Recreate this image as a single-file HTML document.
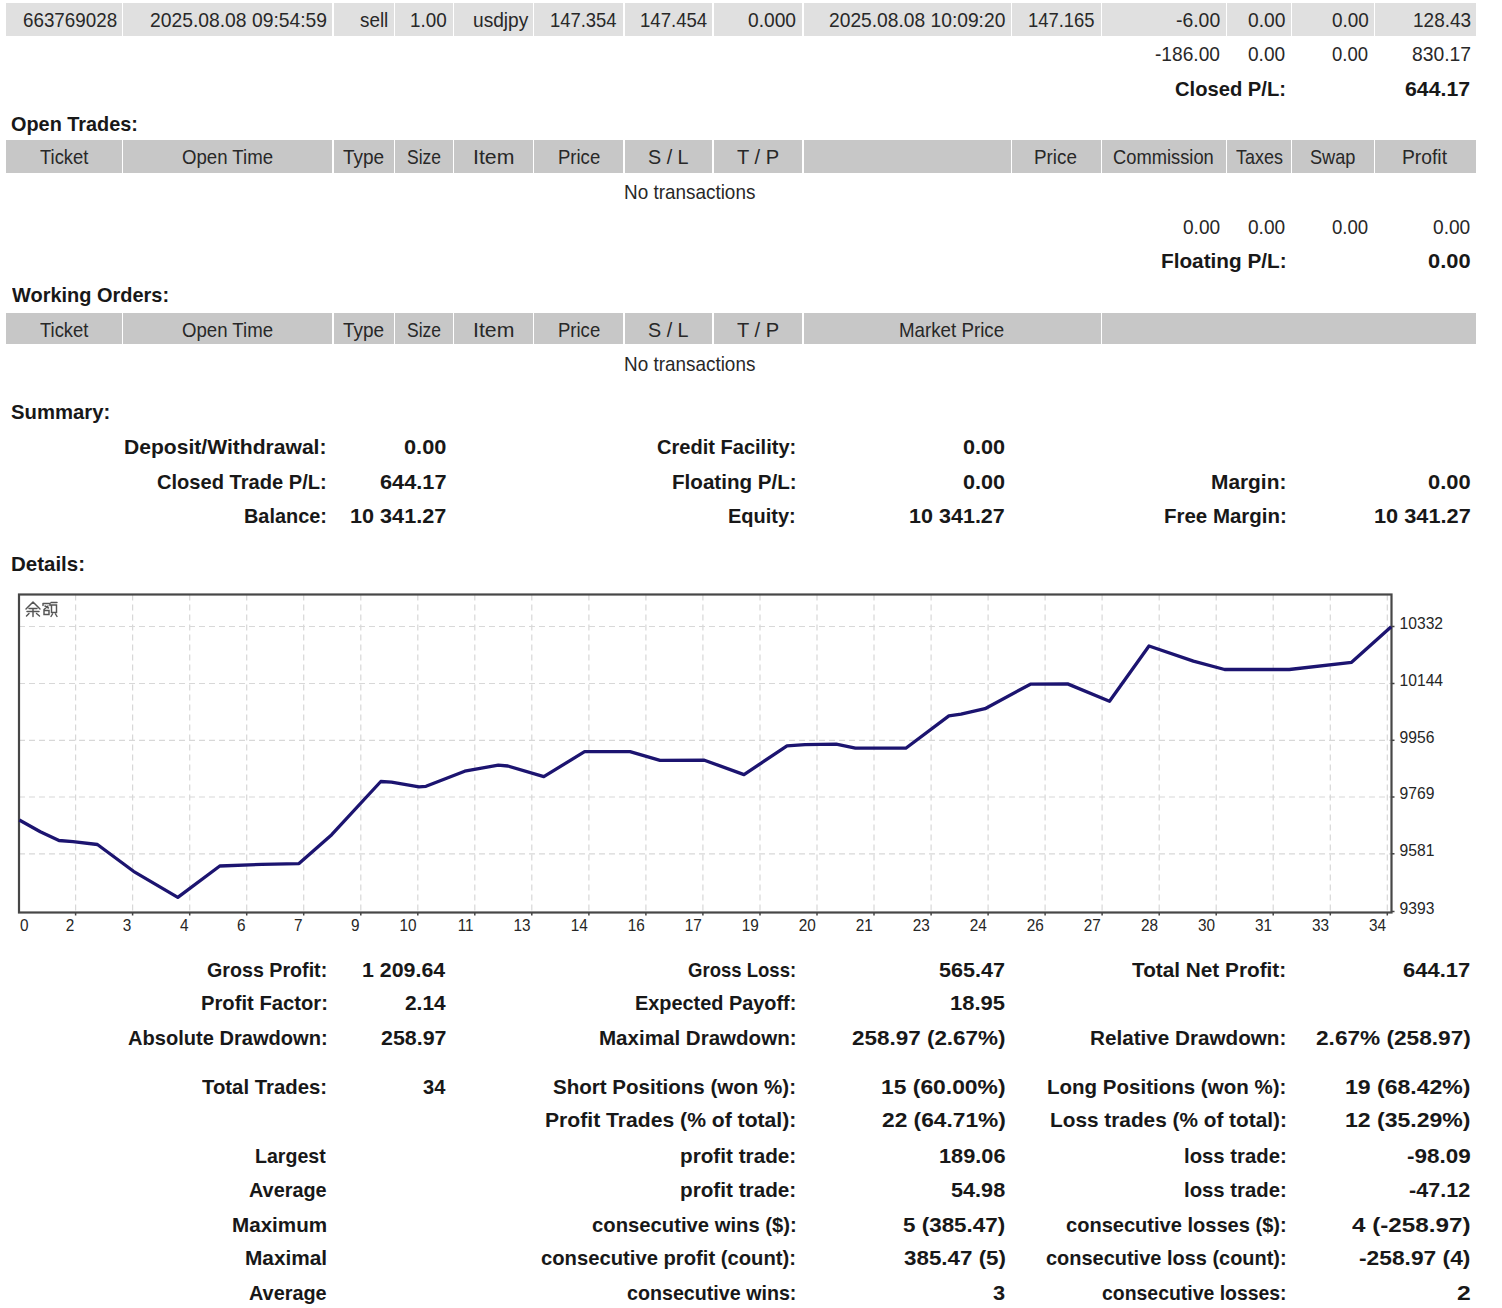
<!DOCTYPE html>
<html><head><meta charset="utf-8"><title>Report</title>
<style>html,body{margin:0;padding:0;background:#fff;width:1502px;height:1308px;overflow:hidden}
body{position:relative;font-family:"Liberation Sans",sans-serif}
svg{display:block;font-family:"Liberation Sans",sans-serif}
.c{position:absolute}
.t{position:absolute;font-size:21px;line-height:21px;white-space:pre;transform-origin:0 0}
.r{color:#282828}
.b{color:#181818;font-weight:bold}</style></head>
<body>
<div class="c" style="left:6px;top:3px;width:115.6px;height:33.0px;background:#e0e0e0"></div>
<div class="c" style="left:123.2px;top:3px;width:208.8px;height:33.0px;background:#e0e0e0"></div>
<div class="c" style="left:334px;top:3px;width:59.5px;height:33.0px;background:#e0e0e0"></div>
<div class="c" style="left:395px;top:3px;width:57.5px;height:33.0px;background:#e0e0e0"></div>
<div class="c" style="left:454px;top:3px;width:78.5px;height:33.0px;background:#e0e0e0"></div>
<div class="c" style="left:534px;top:3px;width:89.0px;height:33.0px;background:#e0e0e0"></div>
<div class="c" style="left:624.5px;top:3px;width:87.5px;height:33.0px;background:#e0e0e0"></div>
<div class="c" style="left:713.5px;top:3px;width:88.5px;height:33.0px;background:#e0e0e0"></div>
<div class="c" style="left:803.5px;top:3px;width:207.0px;height:33.0px;background:#e0e0e0"></div>
<div class="c" style="left:1012px;top:3px;width:88.5px;height:33.0px;background:#e0e0e0"></div>
<div class="c" style="left:1102px;top:3px;width:123.5px;height:33.0px;background:#e0e0e0"></div>
<div class="c" style="left:1227px;top:3px;width:63.5px;height:33.0px;background:#e0e0e0"></div>
<div class="c" style="left:1292px;top:3px;width:81.5px;height:33.0px;background:#e0e0e0"></div>
<div class="c" style="left:1375px;top:3px;width:101.0px;height:33.0px;background:#e0e0e0"></div>
<div class="c" style="left:6px;top:140px;width:115.6px;height:33.2px;background:#c7c7c7"></div>
<div class="c" style="left:123.2px;top:140px;width:208.8px;height:33.2px;background:#c7c7c7"></div>
<div class="c" style="left:334px;top:140px;width:59.5px;height:33.2px;background:#c7c7c7"></div>
<div class="c" style="left:395px;top:140px;width:57.5px;height:33.2px;background:#c7c7c7"></div>
<div class="c" style="left:454px;top:140px;width:78.5px;height:33.2px;background:#c7c7c7"></div>
<div class="c" style="left:534px;top:140px;width:89.0px;height:33.2px;background:#c7c7c7"></div>
<div class="c" style="left:624.5px;top:140px;width:87.5px;height:33.2px;background:#c7c7c7"></div>
<div class="c" style="left:713.5px;top:140px;width:88.5px;height:33.2px;background:#c7c7c7"></div>
<div class="c" style="left:803.5px;top:140px;width:207.0px;height:33.2px;background:#c7c7c7"></div>
<div class="c" style="left:1012px;top:140px;width:88.5px;height:33.2px;background:#c7c7c7"></div>
<div class="c" style="left:1102px;top:140px;width:123.5px;height:33.2px;background:#c7c7c7"></div>
<div class="c" style="left:1227px;top:140px;width:63.5px;height:33.2px;background:#c7c7c7"></div>
<div class="c" style="left:1292px;top:140px;width:81.5px;height:33.2px;background:#c7c7c7"></div>
<div class="c" style="left:1375px;top:140px;width:101.0px;height:33.2px;background:#c7c7c7"></div>
<div class="c" style="left:6px;top:313px;width:115.6px;height:31.2px;background:#c7c7c7"></div>
<div class="c" style="left:123.2px;top:313px;width:208.8px;height:31.2px;background:#c7c7c7"></div>
<div class="c" style="left:334px;top:313px;width:59.5px;height:31.2px;background:#c7c7c7"></div>
<div class="c" style="left:395px;top:313px;width:57.5px;height:31.2px;background:#c7c7c7"></div>
<div class="c" style="left:454px;top:313px;width:78.5px;height:31.2px;background:#c7c7c7"></div>
<div class="c" style="left:534px;top:313px;width:89.0px;height:31.2px;background:#c7c7c7"></div>
<div class="c" style="left:624.5px;top:313px;width:87.5px;height:31.2px;background:#c7c7c7"></div>
<div class="c" style="left:713.5px;top:313px;width:88.5px;height:31.2px;background:#c7c7c7"></div>
<div class="c" style="left:803.5px;top:313px;width:297.0px;height:31.2px;background:#c7c7c7"></div>
<div class="c" style="left:1102px;top:313px;width:374.0px;height:31.2px;background:#c7c7c7"></div>
<svg width="1502" height="1308" viewBox="0 0 1502 1308" style="position:absolute;left:0;top:0">
<g stroke="#d8d8d8" stroke-width="1.2" stroke-dasharray="6 4" fill="none"><line x1="75.6" y1="594.5" x2="75.6" y2="912.5"/><line x1="132.6" y1="594.5" x2="132.6" y2="912.5"/><line x1="189.7" y1="594.5" x2="189.7" y2="912.5"/><line x1="246.7" y1="594.5" x2="246.7" y2="912.5"/><line x1="303.7" y1="594.5" x2="303.7" y2="912.5"/><line x1="360.8" y1="594.5" x2="360.8" y2="912.5"/><line x1="417.8" y1="594.5" x2="417.8" y2="912.5"/><line x1="474.8" y1="594.5" x2="474.8" y2="912.5"/><line x1="531.8" y1="594.5" x2="531.8" y2="912.5"/><line x1="588.9" y1="594.5" x2="588.9" y2="912.5"/><line x1="645.9" y1="594.5" x2="645.9" y2="912.5"/><line x1="702.9" y1="594.5" x2="702.9" y2="912.5"/><line x1="760.0" y1="594.5" x2="760.0" y2="912.5"/><line x1="817.0" y1="594.5" x2="817.0" y2="912.5"/><line x1="874.0" y1="594.5" x2="874.0" y2="912.5"/><line x1="931.1" y1="594.5" x2="931.1" y2="912.5"/><line x1="988.1" y1="594.5" x2="988.1" y2="912.5"/><line x1="1045.1" y1="594.5" x2="1045.1" y2="912.5"/><line x1="1102.1" y1="594.5" x2="1102.1" y2="912.5"/><line x1="1159.2" y1="594.5" x2="1159.2" y2="912.5"/><line x1="1216.2" y1="594.5" x2="1216.2" y2="912.5"/><line x1="1273.2" y1="594.5" x2="1273.2" y2="912.5"/><line x1="1330.3" y1="594.5" x2="1330.3" y2="912.5"/><line x1="1387.3" y1="594.5" x2="1387.3" y2="912.5"/><line x1="19.0" y1="626.5" x2="1391.5" y2="626.5"/><line x1="19.0" y1="683.5" x2="1391.5" y2="683.5"/><line x1="19.0" y1="740.3" x2="1391.5" y2="740.3"/><line x1="19.0" y1="797.0" x2="1391.5" y2="797.0"/><line x1="19.0" y1="853.8" x2="1391.5" y2="853.8"/></g>
<rect x="19.0" y="594.5" width="1372.5" height="318.0" fill="none" stroke="#474747" stroke-width="2.2"/>
<g stroke="#444" stroke-width="1.5"><line x1="75.6" y1="912.5" x2="75.6" y2="915.5"/><line x1="132.6" y1="912.5" x2="132.6" y2="915.5"/><line x1="189.7" y1="912.5" x2="189.7" y2="915.5"/><line x1="246.7" y1="912.5" x2="246.7" y2="915.5"/><line x1="303.7" y1="912.5" x2="303.7" y2="915.5"/><line x1="360.8" y1="912.5" x2="360.8" y2="915.5"/><line x1="417.8" y1="912.5" x2="417.8" y2="915.5"/><line x1="474.8" y1="912.5" x2="474.8" y2="915.5"/><line x1="531.8" y1="912.5" x2="531.8" y2="915.5"/><line x1="588.9" y1="912.5" x2="588.9" y2="915.5"/><line x1="645.9" y1="912.5" x2="645.9" y2="915.5"/><line x1="702.9" y1="912.5" x2="702.9" y2="915.5"/><line x1="760.0" y1="912.5" x2="760.0" y2="915.5"/><line x1="817.0" y1="912.5" x2="817.0" y2="915.5"/><line x1="874.0" y1="912.5" x2="874.0" y2="915.5"/><line x1="931.1" y1="912.5" x2="931.1" y2="915.5"/><line x1="988.1" y1="912.5" x2="988.1" y2="915.5"/><line x1="1045.1" y1="912.5" x2="1045.1" y2="915.5"/><line x1="1102.1" y1="912.5" x2="1102.1" y2="915.5"/><line x1="1159.2" y1="912.5" x2="1159.2" y2="915.5"/><line x1="1216.2" y1="912.5" x2="1216.2" y2="915.5"/><line x1="1273.2" y1="912.5" x2="1273.2" y2="915.5"/><line x1="1330.3" y1="912.5" x2="1330.3" y2="915.5"/><line x1="1387.3" y1="912.5" x2="1387.3" y2="915.5"/><line x1="1391.5" y1="626.5" x2="1394.5" y2="626.5"/><line x1="1391.5" y1="683.5" x2="1394.5" y2="683.5"/><line x1="1391.5" y1="740.3" x2="1394.5" y2="740.3"/><line x1="1391.5" y1="797.0" x2="1394.5" y2="797.0"/><line x1="1391.5" y1="853.8" x2="1394.5" y2="853.8"/><line x1="1391.5" y1="911.5" x2="1394.5" y2="911.5"/></g>
<path d="M19.3 820.0 L40.3 831.7 L59.0 840.5 L73.0 841.7 L97.4 844.5 L133.5 871.3 L177.8 897.4 L219.8 866.0 L261.7 864.3 L299.0 863.6 L331.7 834.7 L380.8 781.5 L391.5 782.2 L419.0 786.8 L426.0 786.3 L464.7 771.2 L498.3 765.2 L507.9 766.0 L543.8 776.7 L584.6 751.6 L630.0 751.6 L660.0 760.4 L704.4 760.2 L744.0 774.6 L787.0 745.8 L805.0 744.6 L836.2 744.2 L855.4 748.2 L905.8 748.2 L948.9 715.9 L961.0 714.2 L985.0 708.7 L1030.4 684.2 L1067.6 683.9 L1109.5 701.2 L1149.0 646.0 L1193.4 661.1 L1224.6 669.5 L1289.3 669.5 L1351.6 662.3 L1391.2 626.8" fill="none" stroke="#1c1470" stroke-width="3.3" stroke-linejoin="round"/>
<g stroke="#555" stroke-width="1.45" fill="none" stroke-linecap="round">
<path d="M33 602 L26 609 M33 602 L40 609 M29 608.5 L37 608.5 M27 611.5 L39 611.5 M33 609 L33 616.5 M29 613.5 L26.5 616 M36.5 613.5 L39.5 616"/>
<path d="M43 603.5 L50 603.5 M43 603.5 L43 605.5 M50 603.5 L50 605.5 M45 606 L48.5 608 M48 606 L44 609.5 M44 610.5 L49 610.5 L49 614.5 L44 614.5 Z M51 602.5 L57 602.5 M51.5 605 L56.5 605 L56.5 612.5 L51.5 612.5 Z M52.5 614 L51 616.5 M55.5 614 L57 616.5"/>
</g>
<g fill="#262626"><text transform="translate(20 931.3) scale(0.93 1)" font-size="16.5">0</text><text transform="translate(74.4 931.3) scale(0.93 1)" font-size="16.5" text-anchor="end">2</text><text transform="translate(131.4 931.3) scale(0.93 1)" font-size="16.5" text-anchor="end">3</text><text transform="translate(188.5 931.3) scale(0.93 1)" font-size="16.5" text-anchor="end">4</text><text transform="translate(245.5 931.3) scale(0.93 1)" font-size="16.5" text-anchor="end">6</text><text transform="translate(302.5 931.3) scale(0.93 1)" font-size="16.5" text-anchor="end">7</text><text transform="translate(359.6 931.3) scale(0.93 1)" font-size="16.5" text-anchor="end">9</text><text transform="translate(416.6 931.3) scale(0.93 1)" font-size="16.5" text-anchor="end">10</text><text transform="translate(473.6 931.3) scale(0.93 1)" font-size="16.5" text-anchor="end">11</text><text transform="translate(530.6 931.3) scale(0.93 1)" font-size="16.5" text-anchor="end">13</text><text transform="translate(587.7 931.3) scale(0.93 1)" font-size="16.5" text-anchor="end">14</text><text transform="translate(644.7 931.3) scale(0.93 1)" font-size="16.5" text-anchor="end">16</text><text transform="translate(701.7 931.3) scale(0.93 1)" font-size="16.5" text-anchor="end">17</text><text transform="translate(758.8 931.3) scale(0.93 1)" font-size="16.5" text-anchor="end">19</text><text transform="translate(815.8 931.3) scale(0.93 1)" font-size="16.5" text-anchor="end">20</text><text transform="translate(872.8 931.3) scale(0.93 1)" font-size="16.5" text-anchor="end">21</text><text transform="translate(929.9 931.3) scale(0.93 1)" font-size="16.5" text-anchor="end">23</text><text transform="translate(986.9 931.3) scale(0.93 1)" font-size="16.5" text-anchor="end">24</text><text transform="translate(1043.9 931.3) scale(0.93 1)" font-size="16.5" text-anchor="end">26</text><text transform="translate(1100.9 931.3) scale(0.93 1)" font-size="16.5" text-anchor="end">27</text><text transform="translate(1158.0 931.3) scale(0.93 1)" font-size="16.5" text-anchor="end">28</text><text transform="translate(1215.0 931.3) scale(0.93 1)" font-size="16.5" text-anchor="end">30</text><text transform="translate(1272.0 931.3) scale(0.93 1)" font-size="16.5" text-anchor="end">31</text><text transform="translate(1329.1 931.3) scale(0.93 1)" font-size="16.5" text-anchor="end">33</text><text transform="translate(1386.1 931.3) scale(0.93 1)" font-size="16.5" text-anchor="end">34</text><text transform="translate(1399.5 628.8) scale(0.95 1)" font-size="16.5">10332</text><text transform="translate(1399.5 685.8) scale(0.95 1)" font-size="16.5">10144</text><text transform="translate(1399.5 742.6) scale(0.95 1)" font-size="16.5">9956</text><text transform="translate(1399.5 799.3) scale(0.95 1)" font-size="16.5">9769</text><text transform="translate(1399.5 856.1) scale(0.95 1)" font-size="16.5">9581</text><text transform="translate(1399.5 913.8) scale(0.95 1)" font-size="16.5">9393</text></g>
</svg>
<div class="t r" style="left:23.10px;top:8.60px;transform:scaleX(0.8951)">663769028</div>
<div class="t r" style="left:150.08px;top:8.60px;transform:scaleX(0.9187)">2025.08.08 09:54:59</div>
<div class="t r" style="left:360.45px;top:8.60px;transform:scaleX(0.8973)">sell</div>
<div class="t r" style="left:409.96px;top:8.60px;transform:scaleX(0.8989)">1.00</div>
<div class="t r" style="left:472.52px;top:8.60px;transform:scaleX(0.9107)">usdjpy</div>
<div class="t r" style="left:550.40px;top:8.60px;transform:scaleX(0.8775)">147.354</div>
<div class="t r" style="left:639.59px;top:8.60px;transform:scaleX(0.8843)">147.454</div>
<div class="t r" style="left:748.07px;top:8.60px;transform:scaleX(0.9142)">0.000</div>
<div class="t r" style="left:828.88px;top:8.60px;transform:scaleX(0.9151)">2025.08.08 10:09:20</div>
<div class="t r" style="left:1027.60px;top:8.60px;transform:scaleX(0.8770)">147.165</div>
<div class="t r" style="left:1175.77px;top:8.60px;transform:scaleX(0.9224)">-6.00</div>
<div class="t r" style="left:1248.27px;top:8.60px;transform:scaleX(0.9162)">0.00</div>
<div class="t r" style="left:1331.68px;top:8.60px;transform:scaleX(0.9009)">0.00</div>
<div class="t r" style="left:1412.65px;top:8.60px;transform:scaleX(0.9052)">128.43</div>
<div class="t r" style="left:1155.08px;top:43.40px;transform:scaleX(0.9116)">-186.00</div>
<div class="t r" style="left:1247.87px;top:43.40px;transform:scaleX(0.9086)">0.00</div>
<div class="t r" style="left:1331.80px;top:43.40px;transform:scaleX(0.8806)">0.00</div>
<div class="t r" style="left:1412.07px;top:43.40px;transform:scaleX(0.9190)">830.17</div>
<div class="t b" style="left:1175.23px;top:78.00px;transform:scaleX(0.9608)">Closed P/L:</div>
<div class="t b" style="left:1404.79px;top:78.00px;transform:scaleX(1.0135)">644.17</div>
<div class="t b" style="left:11.24px;top:113.00px;transform:scaleX(0.9459)">Open Trades:</div>
<div class="t b" style="left:12.00px;top:283.80px;transform:scaleX(0.9503)">Working Orders:</div>
<div class="t b" style="left:11.42px;top:401.00px;transform:scaleX(0.9659)">Summary:</div>
<div class="t b" style="left:10.63px;top:552.70px;transform:scaleX(0.9756)">Details:</div>
<div class="t r" style="left:39.65px;top:146.20px;transform:scaleX(0.8758)">Ticket</div>
<div class="t r" style="left:182.40px;top:146.20px;transform:scaleX(0.8864)">Open Time</div>
<div class="t r" style="left:343.14px;top:146.20px;transform:scaleX(0.9040)">Type</div>
<div class="t r" style="left:406.65px;top:146.20px;transform:scaleX(0.8318)">Size</div>
<div class="t r" style="left:472.58px;top:146.20px;transform:scaleX(1.0120)">Item</div>
<div class="t r" style="left:557.50px;top:146.20px;transform:scaleX(0.8815)">Price</div>
<div class="t r" style="left:648.15px;top:146.20px;transform:scaleX(0.9397)">S / L</div>
<div class="t r" style="left:737.12px;top:146.20px;transform:scaleX(0.9572)">T / P</div>
<div class="t r" style="left:1034.48px;top:146.20px;transform:scaleX(0.8969)">Price</div>
<div class="t r" style="left:1113.33px;top:146.20px;transform:scaleX(0.8725)">Commission</div>
<div class="t r" style="left:1235.96px;top:146.20px;transform:scaleX(0.8557)">Taxes</div>
<div class="t r" style="left:1309.82px;top:146.20px;transform:scaleX(0.8650)">Swap</div>
<div class="t r" style="left:1402.24px;top:146.20px;transform:scaleX(0.9178)">Profit</div>
<div class="t r" style="left:623.67px;top:180.90px;transform:scaleX(0.9003)">No transactions</div>
<div class="t r" style="left:1183.27px;top:215.50px;transform:scaleX(0.9086)">0.00</div>
<div class="t r" style="left:1248.27px;top:215.50px;transform:scaleX(0.9086)">0.00</div>
<div class="t r" style="left:1332.19px;top:215.50px;transform:scaleX(0.8857)">0.00</div>
<div class="t r" style="left:1433.27px;top:215.50px;transform:scaleX(0.9111)">0.00</div>
<div class="t b" style="left:1161.02px;top:250.40px;transform:scaleX(0.9882)">Floating P/L:</div>
<div class="t b" style="left:1428.07px;top:250.40px;transform:scaleX(1.0409)">0.00</div>
<div class="t r" style="left:39.65px;top:318.50px;transform:scaleX(0.8758)">Ticket</div>
<div class="t r" style="left:182.40px;top:318.50px;transform:scaleX(0.8864)">Open Time</div>
<div class="t r" style="left:343.14px;top:318.50px;transform:scaleX(0.9040)">Type</div>
<div class="t r" style="left:406.65px;top:318.50px;transform:scaleX(0.8318)">Size</div>
<div class="t r" style="left:472.58px;top:318.50px;transform:scaleX(1.0120)">Item</div>
<div class="t r" style="left:557.50px;top:318.50px;transform:scaleX(0.8815)">Price</div>
<div class="t r" style="left:648.15px;top:318.50px;transform:scaleX(0.9397)">S / L</div>
<div class="t r" style="left:737.12px;top:318.50px;transform:scaleX(0.9572)">T / P</div>
<div class="t r" style="left:898.88px;top:318.50px;transform:scaleX(0.8917)">Market Price</div>
<div class="t r" style="left:623.67px;top:353.00px;transform:scaleX(0.9003)">No transactions</div>
<div class="t b" style="left:124.19px;top:435.70px;transform:scaleX(1.0042)">Deposit/Withdrawal:</div>
<div class="t b" style="left:404.07px;top:435.70px;transform:scaleX(1.0358)">0.00</div>
<div class="t b" style="left:156.93px;top:470.60px;transform:scaleX(0.9566)">Closed Trade P/L:</div>
<div class="t b" style="left:379.97px;top:470.60px;transform:scaleX(1.0359)">644.17</div>
<div class="t b" style="left:243.67px;top:505.00px;transform:scaleX(0.9472)">Balance:</div>
<div class="t b" style="left:350.26px;top:505.00px;transform:scaleX(1.0302)">10 341.27</div>
<div class="t b" style="left:656.94px;top:435.70px;transform:scaleX(0.9548)">Credit Facility:</div>
<div class="t b" style="left:962.98px;top:435.70px;transform:scaleX(1.0307)">0.00</div>
<div class="t b" style="left:671.53px;top:470.60px;transform:scaleX(0.9810)">Floating P/L:</div>
<div class="t b" style="left:962.98px;top:470.60px;transform:scaleX(1.0307)">0.00</div>
<div class="t b" style="left:728.47px;top:505.00px;transform:scaleX(0.9518)">Equity:</div>
<div class="t b" style="left:909.37px;top:505.00px;transform:scaleX(1.0258)">10 341.27</div>
<div class="t b" style="left:1211.11px;top:470.60px;transform:scaleX(0.9940)">Margin:</div>
<div class="t b" style="left:1427.67px;top:470.60px;transform:scaleX(1.0434)">0.00</div>
<div class="t b" style="left:1163.64px;top:505.00px;transform:scaleX(0.9745)">Free Margin:</div>
<div class="t b" style="left:1373.65px;top:505.00px;transform:scaleX(1.0357)">10 341.27</div>
<div class="t b" style="left:207.15px;top:958.80px;transform:scaleX(0.9366)">Gross Profit:</div>
<div class="t b" style="left:362.38px;top:958.80px;transform:scaleX(1.0179)">1 209.64</div>
<div class="t b" style="left:200.55px;top:992.00px;transform:scaleX(0.9623)">Profit Factor:</div>
<div class="t b" style="left:404.90px;top:992.00px;transform:scaleX(0.9952)">2.14</div>
<div class="t b" style="left:127.82px;top:1027.40px;transform:scaleX(0.9557)">Absolute Drawdown:</div>
<div class="t b" style="left:380.89px;top:1027.40px;transform:scaleX(1.0199)">258.97</div>
<div class="t b" style="left:202.41px;top:1075.80px;transform:scaleX(0.9681)">Total Trades:</div>
<div class="t b" style="left:423.22px;top:1075.80px;transform:scaleX(0.9572)">34</div>
<div class="t b" style="left:255.00px;top:1144.80px;transform:scaleX(0.9318)">Largest</div>
<div class="t b" style="left:248.53px;top:1179.00px;transform:scaleX(0.9453)">Average</div>
<div class="t b" style="left:231.63px;top:1213.80px;transform:scaleX(0.9821)">Maximum</div>
<div class="t b" style="left:244.81px;top:1247.40px;transform:scaleX(0.9908)">Maximal</div>
<div class="t b" style="left:248.53px;top:1281.50px;transform:scaleX(0.9453)">Average</div>
<div class="t b" style="left:688.09px;top:958.80px;transform:scaleX(0.8827)">Gross Loss:</div>
<div class="t b" style="left:939.38px;top:958.80px;transform:scaleX(1.0279)">565.47</div>
<div class="t b" style="left:635.07px;top:992.00px;transform:scaleX(0.9468)">Expected Payoff:</div>
<div class="t b" style="left:950.14px;top:992.00px;transform:scaleX(1.0459)">18.95</div>
<div class="t b" style="left:598.93px;top:1027.40px;transform:scaleX(0.9785)">Maximal Drawdown:</div>
<div class="t b" style="left:852.05px;top:1027.40px;transform:scaleX(1.0690)">258.97 (2.67%)</div>
<div class="t b" style="left:553.41px;top:1075.80px;transform:scaleX(0.9781)">Short Positions (won %):</div>
<div class="t b" style="left:881.09px;top:1075.80px;transform:scaleX(1.0882)">15 (60.00%)</div>
<div class="t b" style="left:545.19px;top:1109.40px;transform:scaleX(1.0066)">Profit Trades (% of total):</div>
<div class="t b" style="left:881.74px;top:1109.40px;transform:scaleX(1.0824)">22 (64.71%)</div>
<div class="t b" style="left:680.22px;top:1144.80px;transform:scaleX(0.9866)">profit trade:</div>
<div class="t b" style="left:938.65px;top:1144.80px;transform:scaleX(1.0361)">189.06</div>
<div class="t b" style="left:680.22px;top:1179.00px;transform:scaleX(0.9866)">profit trade:</div>
<div class="t b" style="left:950.88px;top:1179.00px;transform:scaleX(1.0317)">54.98</div>
<div class="t b" style="left:591.63px;top:1213.80px;transform:scaleX(0.9642)">consecutive wins ($):</div>
<div class="t b" style="left:903.36px;top:1213.80px;transform:scaleX(1.0676)">5 (385.47)</div>
<div class="t b" style="left:541.43px;top:1247.40px;transform:scaleX(0.9628)">consecutive profit (count):</div>
<div class="t b" style="left:903.57px;top:1247.40px;transform:scaleX(1.0653)">385.47 (5)</div>
<div class="t b" style="left:626.95px;top:1281.50px;transform:scaleX(0.9366)">consecutive wins:</div>
<div class="t b" style="left:993.08px;top:1281.50px;transform:scaleX(1.0377)">3</div>
<div class="t b" style="left:1132.30px;top:958.80px;transform:scaleX(0.9887)">Total Net Profit:</div>
<div class="t b" style="left:1403.27px;top:958.80px;transform:scaleX(1.0455)">644.17</div>
<div class="t b" style="left:1090.12px;top:1027.40px;transform:scaleX(0.9840)">Relative Drawdown:</div>
<div class="t b" style="left:1315.75px;top:1027.40px;transform:scaleX(1.0782)">2.67% (258.97)</div>
<div class="t b" style="left:1047.13px;top:1075.80px;transform:scaleX(0.9769)">Long Positions (won %):</div>
<div class="t b" style="left:1345.07px;top:1075.80px;transform:scaleX(1.0971)">19 (68.42%)</div>
<div class="t b" style="left:1049.61px;top:1109.40px;transform:scaleX(0.9903)">Loss trades (% of total):</div>
<div class="t b" style="left:1345.07px;top:1109.40px;transform:scaleX(1.0971)">12 (35.29%)</div>
<div class="t b" style="left:1183.65px;top:1144.80px;transform:scaleX(0.9678)">loss trade:</div>
<div class="t b" style="left:1406.64px;top:1144.80px;transform:scaleX(1.0696)">-98.09</div>
<div class="t b" style="left:1183.65px;top:1179.00px;transform:scaleX(0.9678)">loss trade:</div>
<div class="t b" style="left:1409.18px;top:1179.00px;transform:scaleX(1.0265)">-47.12</div>
<div class="t b" style="left:1065.74px;top:1213.80px;transform:scaleX(0.9549)">consecutive losses ($):</div>
<div class="t b" style="left:1352.15px;top:1213.80px;transform:scaleX(1.1535)">4 (-258.97)</div>
<div class="t b" style="left:1045.74px;top:1247.40px;transform:scaleX(0.9504)">consecutive loss (count):</div>
<div class="t b" style="left:1359.13px;top:1247.40px;transform:scaleX(1.0849)">-258.97 (4)</div>
<div class="t b" style="left:1101.76px;top:1281.50px;transform:scaleX(0.9248)">consecutive losses:</div>
<div class="t b" style="left:1456.68px;top:1281.50px;transform:scaleX(1.1765)">2</div>
</body></html>
